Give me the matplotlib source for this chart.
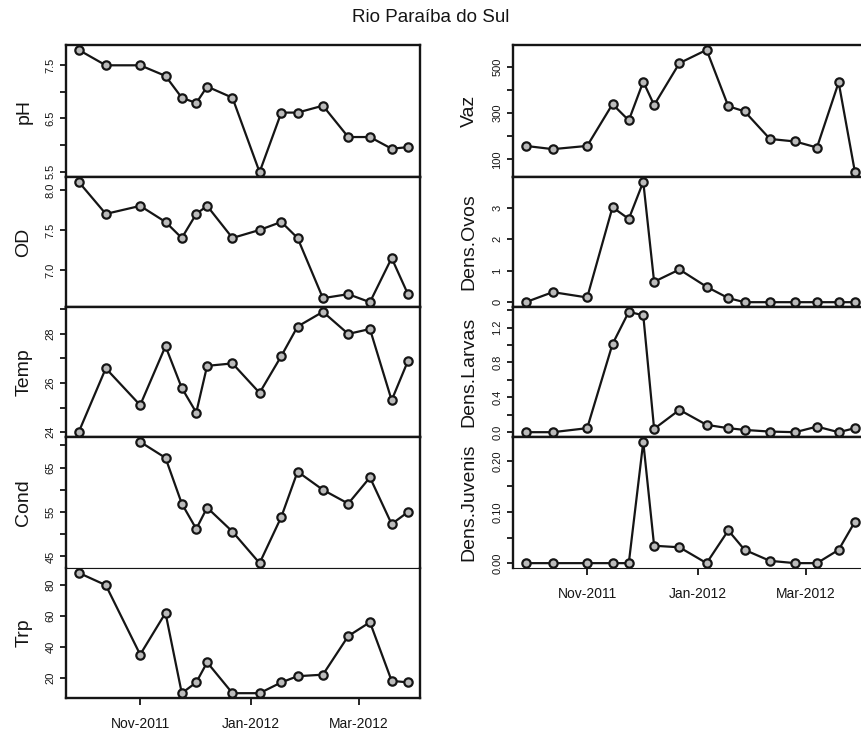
import matplotlib
matplotlib.use("Agg")
import matplotlib.pyplot as plt
import numpy as np
import pandas as pd

plt.rcParams["font.family"] = ["Liberation Sans", "DejaVu Sans"]

dates = pd.to_datetime(["2011-09-28", "2011-10-13", "2011-11-01", "2011-11-15",
                        "2011-11-24", "2011-12-02", "2011-12-08", "2011-12-22",
                        "2012-01-06", "2012-01-18", "2012-01-27", "2012-02-10",
                        "2012-02-24", "2012-03-07", "2012-03-19", "2012-03-28"])

ph = [7.79, 7.5, 7.5, 7.3, 6.89, 6.79, 7.1, 6.89, 5.49, 6.61, 6.61, 6.74, 6.15, 6.15, 5.93, 5.96]
od = [8.1, 7.7, 7.8, 7.6, 7.4, 7.7, 7.8, 7.4, 7.5, 7.6, 7.4, 6.65, 6.7, 6.6, 7.15, 6.7]
temp = [24.0, 26.6, 25.1, 27.5, 25.8, 24.8, 26.7, 26.8, 25.6, 27.1, 28.3, 28.9, 28.0, 28.2, 25.3, 26.9]
cond = [np.nan, np.nan, 70.8, 67.2, 56.9, 51.2, 56.0, 50.6, 43.5, 53.9, 64.1, 60.0, 56.9, 62.8, 52.3, 55.0]
trp = [88, 80, 35, 62, 10, 17, 30, 10, 10, 17, 21, 22, 47, 56, 18, 17]
vaz = [158, 144, 158, 338, 268, 435, 334, 515, 572, 329, 307, 188, 177, 151, 432, 45]
ovos = [0, 0.32, 0.15, 3.02, 2.65, 3.83, 0.65, 1.04, 0.49, 0.13, 0, 0, 0, 0, 0, 0]
larvas = [0, 0, 0.046, 1.01, 1.38, 1.34, 0.038, 0.256, 0.084, 0.046, 0.026, 0.007, 0, 0.064, 0, 0.046]
juvenis = [0, 0, 0, 0, 0, 0.237, 0.034, 0.031, 0, 0.064, 0.026, 0.0045, 0, 0, 0.026, 0.081]

# y ticks per panel, empty string = tick without label (R drops overlapping labels)
ph_ticks = [5.5, 6.0, 6.5, 7.0, 7.5]
ph_labels = ["5.5", "", "6.5", "", "7.5"]
od_ticks = [7.0, 7.5, 8.0]
od_labels = ["7.0", "7.5", "8.0"]
temp_ticks = [24, 25, 26, 27, 28, 29]
temp_labels = ["24", "", "26", "", "28", ""]
cond_ticks = [45, 50, 55, 60, 65, 70]
cond_labels = ["45", "", "55", "", "65", ""]
trp_ticks = [20, 40, 60, 80]
trp_labels = ["20", "40", "60", "80"]
vaz_ticks = [100, 200, 300, 400, 500]
vaz_labels = ["100", "", "300", "", "500"]
ovos_ticks = [0, 1, 2, 3]
ovos_labels = ["0", "1", "2", "3"]
larvas_ticks = [0.0, 0.2, 0.4, 0.6, 0.8, 1.0, 1.2, 1.4]
larvas_labels = ["0.0", "", "0.4", "", "0.8", "", "1.2", ""]
juv_ticks = [0.0, 0.05, 0.10, 0.15, 0.20]
juv_labels = ["0.00", "", "0.10", "", "0.20"]

month_ticks = pd.to_datetime(["2011-11-01", "2012-01-01", "2012-03-01"])
month_labels = ["Nov-2011", "Jan-2012", "Mar-2012"]
xlim = (pd.Timestamp("2011-09-21"), pd.Timestamp("2012-04-03 16:00"))

W, H = 861, 731
fig = plt.figure(figsize=(W / 100, H / 100), dpi=100)
col = "#151515"


def panel(x0, top, bottom, values, name, ticks, labels, last=False, lab_x=-0.095,
          thin_top=False, thin_bottom=False):
    ax = fig.add_axes([x0 / W, 1 - bottom / H, 354 / W, (bottom - top) / H])
    ax.plot(dates, values, color=col, lw=1.6, marker="o", ms=6, mfc="#bbbbbb",
            mec=col, mew=1.6, clip_on=False, zorder=3)
    lo, hi = np.nanmin(values), np.nanmax(values)
    pad = 0.04 * (hi - lo)
    ax.set_ylim(lo - pad, hi + pad)
    ax.set_xlim(xlim)
    ax.set_yticks(ticks)
    ax.set_yticklabels(labels, rotation=90, va="center")
    ax.tick_params(axis="y", length=4.5, width=1.3, pad=3, labelsize=8, colors=col)
    if last:
        ax.set_xticks(month_ticks)
        ax.set_xticklabels(month_labels)
        ax.tick_params(axis="x", length=5, width=1.3, pad=9, labelsize=10, colors=col)
    else:
        ax.set_xticks([])
    for s in ax.spines.values():
        s.set_linewidth(1.7)
        s.set_color(col)
    if thin_top:
        ax.spines["top"].set_linewidth(0.8)
    if thin_bottom:
        ax.spines["bottom"].set_linewidth(0.8)
    ax.set_ylabel(name, fontsize=14, color=col)
    ax.yaxis.set_label_coords(lab_x, 0.5)
    return ax


panel(66, 45, 177, ph, "pH", ph_ticks, ph_labels)
panel(66, 177, 307, od, "OD", od_ticks, od_labels)
panel(66, 307, 437, temp, "Temp", temp_ticks, temp_labels)
panel(66, 437, 568, cond, "Cond", cond_ticks, cond_labels, thin_bottom=True)
panel(66, 568, 698, trp, "Trp", trp_ticks, trp_labels, last=True, thin_top=True)

panel(513, 45, 177, vaz, "Vaz", vaz_ticks, vaz_labels, lab_x=-0.10)
panel(513, 177, 307, ovos, "Dens.Ovos", ovos_ticks, ovos_labels, lab_x=-0.10)
panel(513, 307, 437, larvas, "Dens.Larvas", larvas_ticks, larvas_labels, lab_x=-0.10)
panel(513, 437, 568, juvenis, "Dens.Juvenis", juv_ticks, juv_labels, last=True,
      lab_x=-0.10, thin_bottom=True)

fig.text(0.5, 1 - 18 / H, "Rio Paraíba do Sul", ha="center", va="center",
         fontsize=13.5, color=col)

fig.savefig("out.png", dpi=100)
